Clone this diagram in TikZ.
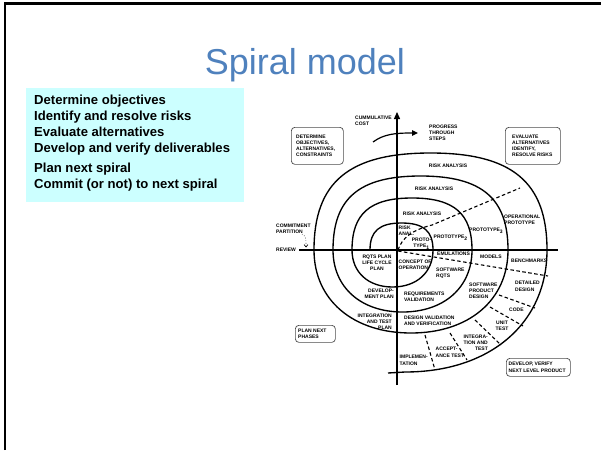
\documentclass[tikz,border=0pt]{standalone}
\usepackage{fontspec}
\setmainfont{Liberation Sans}
\usetikzlibrary{arrows.meta}
\definecolor{titleblue}{RGB}{79,129,189}
\definecolor{boxcyan}{RGB}{204,255,255}
\begin{document}
\begin{tikzpicture}[x=1pt,y=-1pt,
  lab/.style={font=\bfseries\fontsize{5}{6}\selectfont, inner sep=0pt, anchor=north west, align=left},
  labc/.style={lab, anchor=north, align=center},
  labr/.style={lab, anchor=north east, align=right},
  labb/.style={font=\bfseries\fontsize{5}{6}\selectfont, inner sep=0pt, anchor=base west},
  boxlab/.style={font=\bfseries\fontsize{5}{5.8}\selectfont, inner sep=0pt, anchor=west, align=left},
  rbox/.style={draw=black!70, line width=0.7pt, rounded corners=3.5pt, inner sep=0pt},
  spiral/.style={line width=1.35pt},
  axis/.style={line width=1.35pt},
  dsh/.style={line width=1.1pt, dash pattern=on 3.5pt off 2.5pt},
]
\useasboundingbox (0,0) rectangle (601,450);
% frame
\draw[line width=2.7pt] (5,450) -- (5,3.3) -- (601,3.3);
% title
\node[font=\fontsize{36}{40}\selectfont, text=titleblue, anchor=base, inner sep=0pt] (title) at (305,74) {Spiral model};
% left goal box
\node[fill=boxcyan, minimum width=218pt, minimum height=114pt, anchor=north west, inner sep=0pt] (goalbox) at (26,88) {};
\node[font=\bfseries\fontsize{13.1}{16}\selectfont, anchor=north west, align=left, inner sep=0pt] (goals) at (34,94.6)
 {Determine objectives\\Identify and resolve risks\\Evaluate alternatives\\Develop and verify deliverables\\[4pt]Plan next spiral\\Commit (or not) to next spiral};

\def\ku{0.7}
\def\kl{0.6}
% spiral
\draw[spiral] (370,250)
 .. controls (370,{250-\ku*27}) and ({401.5-\ku*31.5},223) .. (401.5,223)
 .. controls ({401.5+\ku*31.5},223) and (433,{250-\ku*27}) .. (433,250)
 .. controls (433,{250+\kl*37}) and ({392.5+\kl*40.5},287) .. (392.5,287)
 .. controls ({392.5-\kl*40.5},287) and (352,{250+\kl*37}) .. (352,250)
 .. controls (352,{250-\ku*52}) and ({412-\ku*60},198) .. (412,198)
 .. controls ({412+\ku*60},198) and (472,{250-\ku*52}) .. (472,250)
 .. controls (472,{250+\kl*62}) and ({402.5+\kl*69.5},312) .. (402.5,312)
 .. controls ({402.5-\kl*69.5},312) and (333,{250+\kl*62}) .. (333,250)
 .. controls (333,{250-\ku*74}) and ({420.5-\ku*87.5},176) .. (420.5,176)
 .. controls ({420.5+\ku*87.5},176) and (508,{250-\ku*74}) .. (508,250)
 .. controls (508,{250+\kl*83}) and ({411+\kl*97},333) .. (411,333)
 .. controls ({411-\kl*97},333) and (314,{250+\kl*83}) .. (314,250)
 .. controls (314,{250-\ku*97}) and ({430.5-\ku*116.5},153) .. (430.5,153)
 .. controls ({430.5+\ku*116.5},153) and (547,{250-\ku*97}) .. (547,250)
 .. controls (547,{250+\kl*122}) and ({405+\kl*142},372) .. (405,372)
 -- (388,373);

% dashed sector lines
\draw[dsh] (398,250) .. controls (402,238) and (412,230) .. (432,225) -- (520,188);
\draw[dsh] (398,251) -- (548,276);
\draw[dsh] (499,295) -- (535,308);
\draw[dsh] (490,307) -- (523,326);
\draw[dsh] (475,320) -- (501,345);
\draw[dsh] (450,333) -- (467,360);
\draw[dsh] (425,335) -- (435,370);

% axes
\coordinate (axbot) at (397,385);
\coordinate (axtop) at (397,112);
\draw[axis, -{Triangle[length=7pt,width=6pt]}] (axbot) -- (axtop);
\coordinate (revL) at (299,250);
\coordinate (revR) at (558,250);
\draw[axis] (revL) -- (revR);

% progress arrow
\coordinate (pgS) at (373,142);
\coordinate (pgE) at (418,133);
\draw[line width=1.2pt, -{Triangle[length=6pt,width=5.5pt]}] (pgS) .. controls (384,134) and (395,133) .. (pgE);

% commitment partition arrow
\coordinate (cpS) at (302,234);
\coordinate (cpE) at (306,247.5);
\draw[line width=0.6pt, dotted, -{Straight Barb[length=2.5pt,width=4pt]}] (cpS) .. controls (306,237) .. (cpE);

% boxes
\node[rbox, minimum width=52pt, minimum height=37pt, anchor=north west] (detbox) at (291,127) {};
\node[boxlab] (dettxt) at ([xshift=5pt]detbox.west) {DETERMINE\\OBJECTIVES,\\ALTERNATIVES,\\CONSTRAINTS};
\node[rbox, minimum width=55pt, minimum height=37pt, anchor=north west] (evbox) at (505,127) {};
\node[boxlab] (evtxt) at ([xshift=7pt]evbox.west) {EVALUATE\\ALTERNATIVES\\IDENTIFY,\\RESOLVE RISKS};
\node[rbox, minimum width=64pt, minimum height=18pt, anchor=north west] (devbox) at (506,358) {};
\node[boxlab, font=\bfseries\fontsize{5}{7}\selectfont] (devtxt) at ([xshift=2.5pt]devbox.west) {DEVELOP, VERIFY\\NEXT LEVEL PRODUCT};
\node[rbox, minimum width=40pt, minimum height=17pt, anchor=north west] (planbox) at (295,325) {};
\node[boxlab, font=\bfseries\fontsize{5}{6}\selectfont] (plantxt) at ([xshift=3pt]planbox.west) {PLAN NEXT\\PHASES};

% labels
\node[lab] (cc) at (355,116.2) {CUMMULATIVE\\COST};
\node[lab] (pts) at (429,125.2) {PROGRESS\\THROUGH\\STEPS};
\node[lab, anchor=center] (ra1) at (448,166) {RISK ANALYSIS};
\node[lab, anchor=center] (ra2) at (434,189) {RISK ANALYSIS};
\node[lab, anchor=center] (ra3) at (422,214) {RISK ANALYSIS};
\node[lab] (ra4) at (398.5,226.2) {RISK\\ANAL.};
\node[labc] (pr1) at (421.5,237.6) {PROTO-\\TYPE\textsubscript{1}};
\node[labb] (pr2) at (433.5,238.8) {PROTOTYPE\textsubscript{2}};
\node[labb] (pr3) at (469,231.8) {PROTOTYPE\textsubscript{3}};
\node[lab] (oper) at (504,215.2) {OPERATIONAL\\PROTOTYPE};
\node[labb] (emu) at (437,255) {EMULATIONS};
\node[labb] (mod) at (480,258.8) {MODELS};
\node[labb] (bench) at (511,262.8) {BENCHMARKS};
\node[lab] (conc) at (398.5,260.2) {CONCEPT OF\\OPERATION};
\node[labc] (rqts) at (377,255.2) {RQTS PLAN\\LIFE CYCLE\\PLAN};
\node[lab] (swr) at (436,268.2) {SOFTWARE\\RQTS};
\node[labr] (devp) at (394,289.2) {DEVELOP-\\MENT PLAN};
\node[lab] (reqv) at (404,292.2) {REQUIREMENTS\\VALIDATION};
\node[labr] (itp) at (392,314.2) {INTEGRATION\\AND TEST\\PLAN};
\node[lab] (dvv) at (404,316.2) {DESIGN VALIDATION\\AND VERIFICATION};
\node[lab] (spd) at (469,283.2) {SOFTWARE\\PRODUCT\\DESIGN};
\node[lab, font=\bfseries\fontsize{5}{6.6}\selectfont] (detd) at (515,281.2) {DETAILED\\DESIGN};
\node[labb] (code) at (509,311.8) {CODE};
\node[labc] (unit) at (502,321.2) {UNIT\\TEST};
\node[labr] (integ) at (488,335.2) {INTEGRA-\\TION AND\\TEST};
\node[lab, font=\bfseries\fontsize{5}{6.6}\selectfont] (acc) at (435.5,347.2) {ACCEPT-\\ANCE TEST};
\node[lab, font=\bfseries\fontsize{5}{7}\selectfont] (impl) at (399.5,355.2) {IMPLEMEN-\\TATION};
\node[lab, font=\bfseries\fontsize{5}{5.6}\selectfont] (commit) at (276,224.2) {COMMITMENT\\PARTITION};
\node[labb] (review) at (276,251.8) {REVIEW};
\end{tikzpicture}
\end{document}
